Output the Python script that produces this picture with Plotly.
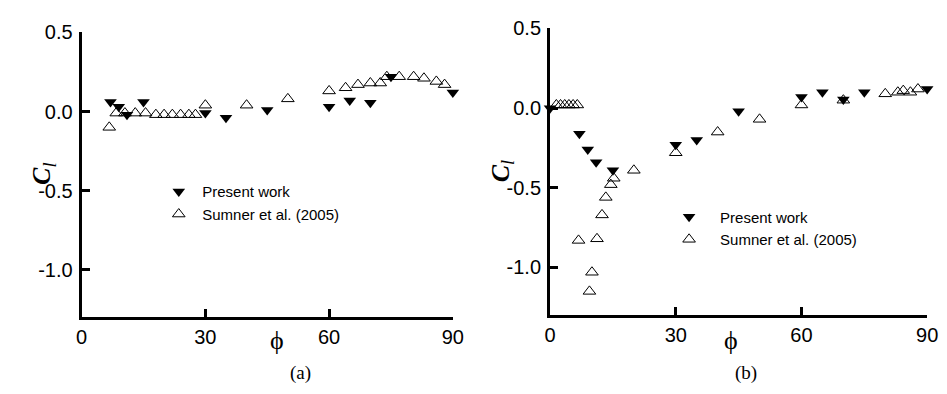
import plotly.graph_objects as go

# ---- (a) lift coefficient vs. incidence angle ----
phi_a_present = [7, 9, 11, 15, 30, 35, 45, 60, 65, 70, 75, 90]
cl_a_present = [0.06, 0.03, -0.02, 0.06, -0.01, -0.04, 0.01, 0.03, 0.07, 0.055, 0.22, 0.12]

phi_a_sumner = [6.7, 8.4, 10.5, 13, 15.5, 18, 20, 22, 24, 26, 27.6, 30, 40, 50,
                60, 64, 67, 70, 72.4, 74, 77, 80.5, 83, 86, 88]
cl_a_sumner = [-0.10, -0.01, -0.01, -0.01, -0.01, -0.02, -0.02, -0.02, -0.02, -0.02, -0.02, 0.04, 0.04, 0.08,
               0.13, 0.15, 0.17, 0.18, 0.18, 0.22, 0.22, 0.22, 0.21, 0.19, 0.17]

# ---- (b) lift coefficient vs. incidence angle ----
phi_b_present = [0, 7, 9, 11, 15, 30, 35, 45, 60, 65, 70, 75, 90]
cl_b_present = [0.0, -0.16, -0.26, -0.34, -0.39, -0.23, -0.20, -0.02, 0.07, 0.10, 0.055, 0.10, 0.12]

phi_b_sumner = [1.5, 2.5, 3.5, 4.5, 5.5, 6.5, 6.8, 9.4, 10, 11.2, 12.4, 13.3, 14.5, 15.2, 20,
                30, 40, 50, 60, 70, 80, 83, 84.3, 86, 87.8]
cl_b_sumner = [0.02, 0.02, 0.02, 0.02, 0.02, 0.02, -0.83, -1.15, -1.03, -0.82, -0.67, -0.56, -0.48, -0.44, -0.39,
               -0.28, -0.15, -0.07, 0.02, 0.05, 0.09, 0.10, 0.11, 0.10, 0.12]

y_ticks = [0.5, 0.0, -0.5, -1.0]
y_ticktext = ["0.5", "0.0", "-0.5", "-1.0"]
x_ticks = [0, 30, 60, 90]
x_ticktext = ["0", "30", "60", "90"]

W, H = 947, 394
SANS = "Liberation Sans, Arial, sans-serif"
SERIF = "Liberation Serif, DejaVu Serif, Times New Roman, serif"

filled = dict(symbol="triangle-down", size=11, color="black", line=dict(width=0))
hollow = dict(symbol="triangle-up-open", size=11, color="black", line=dict(width=1, color="black"))

fig = go.Figure()
fig.add_trace(go.Scatter(x=phi_a_present, y=cl_a_present, mode="markers", marker=filled,
                         name="Present work", legend="legend", legendgroup="a1",
                         xaxis="x", yaxis="y", cliponaxis=False))
fig.add_trace(go.Scatter(x=phi_a_sumner, y=cl_a_sumner, mode="markers", marker=hollow,
                         name="Sumner et al. (2005)", legend="legend", legendgroup="a2",
                         xaxis="x", yaxis="y", cliponaxis=False))
fig.add_trace(go.Scatter(x=phi_b_present, y=cl_b_present, mode="markers", marker=filled,
                         name="Present work", legend="legend2", legendgroup="b1",
                         xaxis="x2", yaxis="y2", cliponaxis=False))
fig.add_trace(go.Scatter(x=phi_b_sumner, y=cl_b_sumner, mode="markers", marker=hollow,
                         name="Sumner et al. (2005)", legend="legend2", legendgroup="b2",
                         xaxis="x2", yaxis="y2", cliponaxis=False))

axis_common = dict(showline=True, linewidth=3, linecolor="black", ticks="inside", ticklen=8,
                   tickwidth=3, tickcolor="black", showgrid=False, zeroline=False, mirror=False,
                   tickfont=dict(family=SANS, size=20, color="black"))


def px_x(p):
    return p / W


def px_y(p):
    return 1 - p / H


legend_font = dict(family=SANS, size=15, color="black")

fig.update_layout(
    width=W, height=H,
    margin=dict(l=0, r=0, t=0, b=0),
    paper_bgcolor="white", plot_bgcolor="white",
    xaxis=dict(domain=[px_x(77), px_x(455)], range=[0, 90], tickvals=x_ticks, ticktext=x_ticktext,
               anchor="y", **axis_common),
    yaxis=dict(domain=[px_y(315), px_y(22)], range=[-1.3, 0.5], tickvals=y_ticks, ticktext=y_ticktext,
               anchor="x", ticklabelstandoff=2, **axis_common),
    xaxis2=dict(domain=[px_x(554), px_x(938)], range=[0, 90], tickvals=x_ticks, ticktext=x_ticktext,
                anchor="y2", **axis_common),
    yaxis2=dict(domain=[px_y(313), px_y(18)], range=[-1.3, 0.5], tickvals=y_ticks, ticktext=y_ticktext,
                anchor="x2", ticklabelstandoff=2, **axis_common),
    legend=dict(x=px_x(152), y=px_y(169), xanchor="left", yanchor="top", bgcolor="rgba(0,0,0,0)",
                font=legend_font, tracegroupgap=0, itemwidth=37),
    legend2=dict(x=px_x(664), y=px_y(195), xanchor="left", yanchor="top", bgcolor="rgba(0,0,0,0)",
                 font=legend_font, tracegroupgap=0, itemwidth=52),
    showlegend=True,
)

ylab = "<b><i>C</i></b><sub><i>l</i></sub>"
annotations = [
    dict(x=px_x(20), y=px_y(168), text=ylab, textangle=-90),
    dict(x=px_x(505), y=px_y(165), text=ylab, textangle=-90),
    dict(x=px_x(267), y=px_y(356), text="ϕ"),
    dict(x=px_x(747), y=px_y(356), text="ϕ"),
]
for a in annotations:
    a.update(xref="paper", yref="paper", showarrow=False, font=dict(family=SERIF, size=26, color="black"))
    fig.add_annotation(**a)
for x, t in [(287, "(a)"), (767, "(b)")]:
    fig.add_annotation(x=px_x(x), y=px_y(386), xref="paper", yref="paper", text=t, showarrow=False,
                       font=dict(family=SERIF, size=19, color="black"))

fig.write_html("out.html")
